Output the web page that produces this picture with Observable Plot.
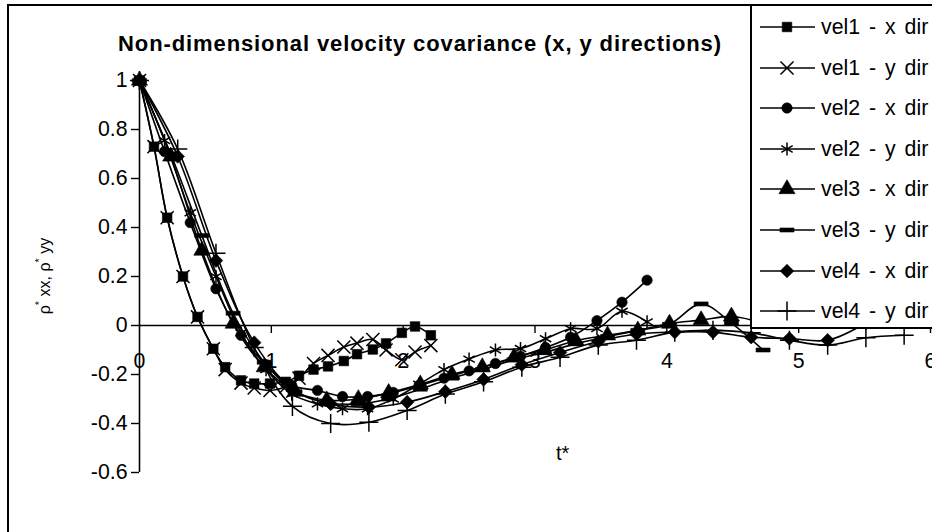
<!DOCTYPE html>
<html>
<head>
<meta charset="utf-8">
<script src="https://cdn.jsdelivr.net/npm/d3@7"></script>
<script src="https://cdn.jsdelivr.net/npm/@observablehq/plot@0.6"></script>
<style>
  html, body { margin: 0; padding: 0; background: #fff; overflow: hidden; }
  #wrap { position: relative; width: 932px; height: 532px; overflow: hidden; background: #fff;
          font-family: "Liberation Sans", Arial, sans-serif; color: #000; }
  #border { position: absolute; left: 7px; top: 4px; width: 1000px; height: 1000px; border: 2px solid #000; box-sizing: border-box; }
  #plot { position: absolute; left: 0; top: 0; }
  #title { position: absolute; left: 118px; top: 32px; font-weight: bold; font-size: 22px; letter-spacing: 0.9px; white-space: nowrap; line-height: 24px; }
  #xtitle { position: absolute; left: 556px; top: 441px; font-size: 20px; line-height: 24px; white-space: nowrap; }
  #ytitle { position: absolute; left: 42px; top: 276px; font-size: 16px; white-space: nowrap; transform: translate(-50%, -50%) rotate(-90deg); line-height: 18px; }
  #ytitle sup { font-size: 11px; vertical-align: 7px; }
  #legend { position: absolute; left: 750px; top: 4px; width: 300px; height: 325px; border: 2px solid #000; box-sizing: border-box; background: #fff; }
  .lrow { position: absolute; left: 757px; height: 40px; white-space: nowrap; }
  .lrow svg { position: absolute; left: 0; top: 0; }
  .lrow span { position: absolute; left: 64px; top: 0; line-height: 40px; font-size: 21.3px; word-spacing: 3px; }
</style>
</head>
<body>
<div id="wrap">
  <div id="border"></div>
  <div id="plot"></div>
  <div id="title">Non-dimensional velocity covariance (x, y directions)</div>
  <div id="xtitle">t*</div>
  <div id="ytitle">ρ<sup>*</sup> xx, ρ<sup>*</sup> yy</div>
  <div id="legend"></div>
</div>
<script>
// ---------- data ----------
const seriesNames = ["vel1 - x dir", "vel1 - y dir", "vel2 - x dir", "vel2 - y dir",
                     "vel3 - x dir", "vel3 - y dir", "vel4 - x dir", "vel4 - y dir"];

const t1 = [0, 0.11, 0.21, 0.33, 0.44, 0.56, 0.65, 0.77, 0.87, 0.99, 1.11, 1.21, 1.32, 1.43, 1.55, 1.65, 1.77, 1.87, 1.99, 2.09, 2.21];
const vel1x = [1, 0.73, 0.44, 0.2, 0.035, -0.095, -0.17, -0.224, -0.237, -0.237, -0.23, -0.205, -0.18, -0.167, -0.145, -0.117, -0.098, -0.073, -0.03, -0.004, -0.04];
const vel1y = [1, 0.73, 0.44, 0.2, 0.035, -0.095, -0.18, -0.235, -0.255, -0.265, -0.25, -0.215, -0.155, -0.122, -0.088, -0.072, -0.057, -0.1, -0.14, -0.108, -0.082];

const t2 = [0, 0.19, 0.385, 0.58, 0.77, 0.96, 1.155, 1.35, 1.54, 1.73, 1.925, 2.12, 2.31, 2.5, 2.7, 2.89, 3.08, 3.27, 3.47, 3.66, 3.85];
const vel2x = [1, 0.71, 0.42, 0.15, -0.04, -0.16, -0.245, -0.265, -0.29, -0.29, -0.273, -0.245, -0.215, -0.185, -0.155, -0.125, -0.09, -0.048, 0.02, 0.095, 0.185];
const vel2y = [1, 0.755, 0.46, 0.2, -0.03, -0.18, -0.28, -0.32, -0.34, -0.34, -0.3, -0.24, -0.18, -0.137, -0.1, -0.094, -0.054, -0.013, -0.013, 0.058, 0.015];

const t3 = [0, 0.237, 0.473, 0.71, 0.946, 1.18, 1.42, 1.66, 1.89, 2.13, 2.37, 2.6, 2.84, 3.07, 3.31, 3.55, 3.78, 4.02, 4.26, 4.49, 4.73];
const vel3x = [1, 0.69, 0.306, 0.008, -0.17, -0.27, -0.305, -0.3, -0.275, -0.24, -0.2, -0.17, -0.13, -0.1, -0.062, -0.04, -0.02, 0.008, 0.022, 0.037, 0.01];
const vel3y = [1, 0.7, 0.367, 0.05, -0.15, -0.27, -0.315, -0.32, -0.3, -0.26, -0.215, -0.18, -0.14, -0.11, -0.075, -0.045, -0.02, 0.005, 0.088, 0.01, -0.1];

const t4 = [0, 0.29, 0.58, 0.87, 1.16, 1.45, 1.74, 2.03, 2.32, 2.61, 2.9, 3.19, 3.48, 3.77, 4.06, 4.35, 4.64, 4.93, 5.22, 5.51, 5.8];
const vel4x = [1, 0.69, 0.265, -0.07, -0.26, -0.32, -0.333, -0.313, -0.27, -0.22, -0.16, -0.11, -0.065, -0.035, -0.027, -0.027, -0.048, -0.053, -0.06, 0.01];
const vel4y = [1, 0.72, 0.295, -0.09, -0.33, -0.4, -0.395, -0.347, -0.28, -0.23, -0.17, -0.13, -0.08, -0.06, -0.027, -0.02, -0.03, -0.06, -0.08, -0.05, -0.04];

const xTicks = [0, 1, 2, 3, 4, 5, 6];
const xTickLabels = ["0", "1", "2", "3", "4", "5", "6"];
const yTicks = [-0.6, -0.4, -0.2, 0, 0.2, 0.4, 0.6, 0.8, 1];
const yTickLabels = ["-0.6", "-0.4", "-0.2", "0", "0.2", "0.4", "0.6", "0.8", "1"];

// ---------- marker shapes ----------
const dashSym = { draw(ctx, size) { const w = Math.sqrt(size) * 0.72, h = 2; ctx.moveTo(-w, -h); ctx.lineTo(w, -h); ctx.lineTo(w, h); ctx.lineTo(-w, h); ctx.closePath(); } };
const diamondSym = { draw(ctx, size) { const s = Math.sqrt(size) * 0.62; ctx.moveTo(0, -s); ctx.lineTo(s, 0); ctx.lineTo(0, s); ctx.lineTo(-s, 0); ctx.closePath(); } };

const seriesT = [t1, t1, t2, t2, t3, t3, t4, t4];
const seriesV = [vel1x, vel1y, vel2x, vel2y, vel3x, vel3y, vel4x, vel4y];
const styles = [
  { plot: "square", d3: d3.symbolSquare, filled: true, r: 5.4 },
  { plot: "times", d3: d3.symbolTimes, filled: false, r: 6 },
  { plot: "circle", d3: d3.symbolCircle, filled: true, r: 5.2 },
  { plot: "asterisk", d3: d3.symbolAsterisk, filled: false, r: 6.2 },
  { plot: "triangle", d3: d3.symbolTriangle, filled: true, r: 6 },
  { plot: dashSym, d3: dashSym, filled: true, r: 5.5 },
  { plot: diamondSym, d3: diamondSym, filled: true, r: 6.2 },
  { plot: "plus", d3: d3.symbolPlus, filled: false, r: 6.2 }
];

const rows = seriesNames.flatMap((name, k) =>
  seriesV[k].map((v, i) => ({ series: name, k, t: seriesT[k][i], v })));

const marks = [
  Plot.text(xTicks, { x: d => d, y: 0, dy: 36, text: (d, i) => xTickLabels[i], fontSize: 21.3, fill: "black" }),
  Plot.ruleY([0], { stroke: "black", strokeWidth: 1.6 }),
  Plot.ruleX([0], { stroke: "black", strokeWidth: 1.6 }),
  Plot.ruleX(xTicks.slice(1), { x: d => d, y1: 0, y2: 0, insetBottom: -8, stroke: "black", strokeWidth: 1.4 })
];
seriesNames.forEach((name, k) => {
  const data = rows.filter(r => r.k === k);
  const st = styles[k];
  marks.push(Plot.line(data, { x: "t", y: "v", curve: "catmull-rom", stroke: "black", strokeWidth: 1.6 }));
  marks.push(Plot.dot(data, {
    x: "t", y: "v", symbol: st.plot, r: st.r,
    fill: st.filled ? "black" : "none",
    stroke: "black", strokeWidth: st.filled ? 0.6 : 1.5
  }));
});

const chart = Plot.plot({
  width: 932, height: 532,
  marginLeft: 139, marginRight: 2, marginTop: 80, marginBottom: 60,
  style: { background: "transparent", fontFamily: "'Liberation Sans', Arial, sans-serif", fontSize: "21.3px", color: "black", overflow: "visible" },
  x: { domain: [0, 6], axis: null },
  y: { domain: [-0.6, 1], ticks: yTicks, tickSize: 8, tickPadding: 4, label: null,
       tickFormat: d => yTickLabels[yTicks.findIndex(v => Math.abs(v - d) < 1e-9)] },
  marks
});
document.getElementById("plot").appendChild(chart);
d3.select(chart).selectAll("[aria-label='y-axis tick'] path, [aria-label='y-axis'] line, [aria-label='y-axis'] path").attr("stroke-width", 1.4).attr("stroke", "black");

// ---------- legend ----------
const wrap = document.getElementById("wrap");
seriesNames.forEach((name, k) => {
  const st = styles[k];
  const row = document.createElement("div");
  row.className = "lrow";
  row.style.top = (27 + 40.6 * k - 20) + "px";
  const svg = d3.create("svg").attr("width", 62).attr("height", 40);
  svg.append("line").attr("x1", 3).attr("x2", 58).attr("y1", 20).attr("y2", 20).attr("stroke", "black").attr("stroke-width", 1.6);
  svg.append("path")
    .attr("transform", "translate(30,20)")
    .attr("d", d3.symbol().type(st.d3).size(Math.PI * st.r * st.r)())
    .attr("fill", st.filled ? "black" : "none")
    .attr("stroke", "black").attr("stroke-width", st.filled ? 0.6 : 1.5);
  row.appendChild(svg.node());
  const span = document.createElement("span");
  span.textContent = name;
  row.appendChild(span);
  wrap.appendChild(row);
});
</script>
</body>
</html>
